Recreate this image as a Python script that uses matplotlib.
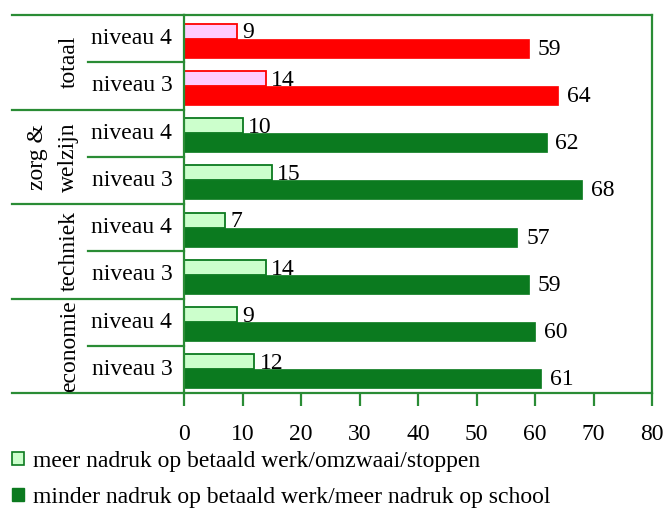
import matplotlib
matplotlib.use("Agg")
import matplotlib.pyplot as plt
from matplotlib.patches import Patch

plt.rcParams['font.family'] = ['Liberation Serif', 'DejaVu Serif']
plt.rcParams['font.size'] = 17

# rows from top to bottom
groups = ['totaal', 'zorg &\nwelzijn', 'techniek', 'economie']
levels = ['niveau 4', 'niveau 3']
meer = [9, 14, 10, 15, 7, 14, 9, 12]
minder = [59, 64, 62, 68, 57, 59, 60, 61]
xticks = [0, 10, 20, 30, 40, 50, 60, 70, 80]

light = ['#ffccff', '#ffccff'] + ['#ccffcc'] * 6
dark = ['#ff0000', '#ff0000'] + ['#0b7a1f'] * 6
edge = ['#ff0000', '#ff0000'] + ['#0b7a1f'] * 6
line_col = '#2a8c35'

fig = plt.figure(figsize=(6.65, 5.11), dpi=100)
ax = fig.add_axes([184 / 665, 1 - 393 / 511, 468 / 665, 378 / 511])

rows = list(range(len(meer)))
ax.barh([r - 0.16 for r in rows], meer, height=0.32, color=light,
        edgecolor=edge, linewidth=1.3)
ax.barh([r + 0.20 for r in rows], minder, height=0.40, color=dark,
        edgecolor=dark, linewidth=0.5)

for r in rows:
    ax.text(meer[r] + 0.9, r - 0.12, str(meer[r]), va='center', ha='left')
    ax.text(minder[r] + 1.5, r + 0.22, str(minder[r]), va='center', ha='left')

ax.set_xlim(0, 80)
ax.set_ylim(len(rows) - 0.5, -0.5)
ax.set_xticks(xticks)
ax.set_yticks([])
for s in ax.spines.values():
    s.set_color(line_col)
    s.set_linewidth(1.6)
ax.tick_params(axis='x', direction='out', length=9, width=1.6,
               color=line_col, pad=13)

# category block on the left
tr = ax.get_yaxis_transform()
for r in rows:
    ax.text(-0.025, r, levels[r % 2], transform=tr, ha='right', va='center')
for b in range(len(rows) + 1):
    x0 = -0.3675 if b % 2 == 0 else -0.205
    ax.plot([x0, 0], [b - 0.5, b - 0.5], transform=tr, color=line_col,
            lw=1.6, clip_on=False)
for g, name in enumerate(groups):
    xg = -0.245 if '\n' not in name else -0.28
    ax.text(xg, 2 * g + 0.5, name, transform=tr, rotation=90,
            ha='center', va='center', linespacing=1.6)

handles = [Patch(facecolor='#ccffcc', edgecolor='#0b7a1f', linewidth=1.2),
           Patch(facecolor='#0b7a1f', edgecolor='#0b7a1f')]
labels = ['meer nadruk op betaald werk/omzwaai/stoppen',
          'minder nadruk op betaald werk/meer nadruk op school']
fig.legend(handles, labels, loc='upper left',
           bbox_to_anchor=(12 / 665, 1 - 451 / 511), frameon=False,
           handlelength=0.5, handleheight=0.5, handletextpad=0.4,
           labelspacing=0.64, borderaxespad=0, borderpad=0)

fig.savefig('out.png', dpi=100)
